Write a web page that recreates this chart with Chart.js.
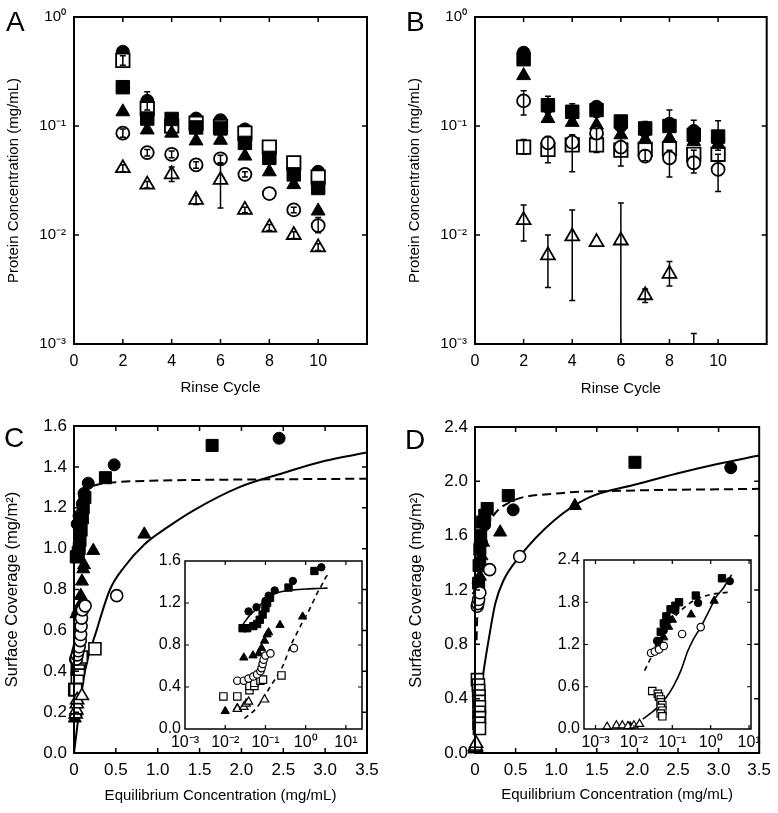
<!DOCTYPE html>
<html><head><meta charset="utf-8">
<script src="https://cdn.jsdelivr.net/npm/chart.js@4.4.1/dist/chart.umd.min.js"></script>
<style>
body{margin:0;background:#fff;width:778px;height:813px;position:relative;overflow:hidden;font-family:"Liberation Sans",Arial,Helvetica,sans-serif}
canvas{position:absolute}
.lbl{position:absolute;font-size:28px;line-height:28px;color:#000;font-family:"Liberation Sans",Arial,sans-serif}
</style></head><body>
<canvas id="cA" width="389" height="406" style="left:0;top:0"></canvas>
<canvas id="cB" width="389" height="406" style="left:389px;top:0"></canvas>
<canvas id="cC" width="389" height="407" style="left:0;top:406px"></canvas>
<canvas id="cD" width="389" height="407" style="left:389px;top:406px"></canvas>
<canvas id="cCi" width="230" height="220" style="left:145px;top:545px"></canvas>
<canvas id="cDi" width="225" height="220" style="left:545px;top:545px"></canvas>
<div class="lbl" style="left:6px;top:8px">A</div>
<div class="lbl" style="left:406px;top:8px">B</div>
<div class="lbl" style="left:4px;top:424px">C</div>
<div class="lbl" style="left:405px;top:426px">D</div>
<script>
// ---------- Data ----------
const rinseCycles = [2,3,4,5,6,7,8,9,10];
const rinseTicks = [0,2,4,6,8,10,12];
const logTicksAB = [0.001,0.01,0.1,1];
const insetXTicks = [0.001,0.01,0.1,1,10];

// Panel A (protein concentration vs rinse cycle)
const aFilledCircle   = [0.48, 0.17, 0.10, 0.117,0.113,0.093,0.060,0.042,0.038];
const aOpenSquare     = [0.40, 0.144,0.10, 0.106,0.099,0.086,0.064,0.046,0.034];
const aFilledSquare   = [0.227,0.117,0.116,0.097,0.095,0.070,0.051,0.036,0.027];
const aFilledTriangle = [0.135,0.092,0.086,0.073,0.074,0.053,0.038,0.029,0.0166];
const aOpenCircle     = [0.086,0.057,0.055,0.044,0.050,0.036,0.024,0.017,0.0122];
const aOpenTriangle   = [0.041,0.029,0.036,0.021,0.032,0.017,0.0117,0.010,0.0077];
const aErrFilledCircle = [null,[0.14,0.206],null,null,null,null,null,null,null];
const aErrOpenCircle   = [[0.079,0.094],[0.053,0.061],[0.051,0.059],[0.041,0.047],[0.046,0.054],[0.034,0.038],null,[0.016,0.018],[0.0105,0.0145]];
const aErrOpenTriangle = [[0.038,0.044],[0.027,0.031],[0.031,0.042],[0.019,0.023],[0.0177,0.045],[0.016,0.018],[0.011,0.0125],[0.0093,0.0107],[0.0072,0.0083]];
const aErrOpenSquare   = [[0.36,0.44],null,null,null,null,null,null,null,null];

// Panel B
const bFilledCircle   = [0.47, 0.15, 0.13, 0.15, 0.10, 0.09, 0.105,0.09, 0.075];
const bOpenSquare     = [0.064,0.061,0.067,0.067,0.060,0.061,0.062,0.055,0.055];
const bFilledSquare   = [0.41, 0.155,0.135,0.14, 0.11, 0.095,0.10, 0.083,0.080];
const bFilledTriangle = [0.29, 0.117,0.108,0.102,0.083,0.075,0.077,0.072,0.068];
const bOpenCircle     = [0.17, 0.070,0.071,0.086,0.064,0.053,0.051,0.046,0.040];
const bOpenTriangle   = [0.0137,0.0065,0.0097,0.0086,0.0089,0.0028,0.0044,0.0006,null];
const bErrFilledSquare = [null,[0.13,0.187],[0.115,0.16],[0.12,0.16],null,[0.085,0.11],[0.08,0.14],[0.07,0.113],[0.06,0.112]];
const bErrOpenCircle   = [[0.126,0.211],null,[0.038,0.083],[0.057,0.095],null,[0.048,0.06],[0.034,0.06],[0.037,0.06],[0.025,0.055]];
const bErrOpenSquare   = [[0.055,0.075],[0.046,0.08],null,null,[0.043,0.08],null,null,null,null];
const bErrOpenTriangle = [[0.0088,0.0188],[0.0033,0.010],[0.0025,0.017],null,[0.0005,0.0197],[0.0024,0.0032],[0.0034,0.0057],[0.0003,0.00125],null];

// Panel C (surface coverage vs equilibrium concentration)
const cFilledCircle   = [[0.038,1.12],[0.06,1.16],[0.1,1.22],[0.12,1.27],[0.17,1.32],[0.48,1.41],[2.45,1.54]];
const cFilledSquare   = [[0.027,0.96],[0.035,0.96],[0.05,0.98],[0.062,1.0],[0.072,1.04],[0.085,1.09],[0.1,1.15],[0.11,1.2],[0.13,1.25],[0.375,1.347],[1.65,1.505]];
const cFilledTriangle = [[0.01,0.17],[0.02,0.2],[0.029,0.68],[0.049,0.7],[0.068,0.72],[0.08,0.77],[0.095,0.84],[0.11,0.9],[0.12,0.92],[0.23,0.99],[0.84,1.07]];
const cOpenCircle     = [[0.02,0.46],[0.029,0.46],[0.038,0.48],[0.05,0.5],[0.062,0.52],[0.075,0.55],[0.08,0.58],[0.085,0.62],[0.09,0.66],[0.1,0.7],[0.133,0.72],[0.51,0.77]];
const cOpenSquare     = [[0.009,0.31],[0.02,0.31],[0.04,0.37],[0.04,0.41],[0.053,0.41],[0.053,0.44],[0.075,0.46],[0.087,0.47],[0.25,0.51]];
const cOpenTriangle   = [[0.02,0.19],[0.029,0.21],[0.033,0.24],[0.038,0.26],[0.095,0.28]];
const cFitDashed = [[0.027,0.99],[0.038,1.07],[0.062,1.15],[0.11,1.25],[0.17,1.29],[0.3,1.315],[0.5,1.325],[1.0,1.333],[2.0,1.338],[3.5,1.342]];
const cFitSolid  = [[0,0],[0.03,0.1],[0.06,0.2],[0.13,0.4],[0.27,0.6],[0.43,0.8],[0.6,0.91],[0.84,1.02],[1.1,1.1],[1.44,1.19],[1.97,1.3],[2.5,1.37],[3.0,1.43],[3.5,1.47]];

// Panel D
const dFilledCircle   = [[0.04,1.25],[0.06,1.4],[0.08,1.55],[0.12,1.68],[0.47,1.79],[3.15,2.1]];
const dFilledSquare   = [[0.045,1.25],[0.05,1.38],[0.06,1.5],[0.07,1.6],[0.09,1.7],[0.12,1.75],[0.15,1.8],[0.41,1.895],[1.97,2.14]];
const dFilledTriangle = [[0.008,0.04],[0.045,1.2],[0.06,1.3],[0.08,1.45],[0.1,1.55],[0.31,1.625],[1.23,1.82]];
const dOpenCircle     = [[0.028,1.08],[0.035,1.1],[0.045,1.13],[0.06,1.18],[0.18,1.35],[0.55,1.447]];
const dOpenSquare     = [[0.03,0.54],[0.042,0.5],[0.045,0.46],[0.05,0.42],[0.05,0.38],[0.055,0.34],[0.05,0.3],[0.055,0.26],[0.05,0.22],[0.055,0.18]];
const dOpenTriangle   = [[0.002,0.03],[0.0035,0.05],[0.005,0.05],[0.007,0.04],[0.01,0.05],[0.014,0.07]];
const dFitDashed = [[0.019,0.83],[0.03,1.05],[0.05,1.3],[0.1,1.55],[0.2,1.72],[0.41,1.84],[1.0,1.91],[1.8,1.93],[3.5,1.945]];
const dFitSolid  = [[0.017,0.14],[0.04,0.3],[0.07,0.45],[0.11,0.62],[0.17,0.84],[0.25,1.1],[0.35,1.27],[0.55,1.447],[0.97,1.71],[1.4,1.88],[2.0,1.98],[2.5,2.06],[3.0,2.13],[3.5,2.19]];

// ---------- Helpers ----------
const FONT = '"Liberation Sans", Arial, Helvetica, sans-serif';
Chart.defaults.font.family = FONT;
Chart.defaults.color = '#000';
Chart.defaults.animation = false;

const SUP = {'-':'\u207B','0':'\u2070','1':'\u00B9','2':'\u00B2','3':'\u00B3','4':'\u2074','5':'\u2075'};
function pow10Label(v){ const e = Math.round(Math.log10(v)); return '10' + String(e).split('').map(c=>SUP[c]).join(''); }

const framePlugin = {
  id:'frame',
  beforeDatasetsDraw(chart, args, o){
    if(!o || !o.fill) return;
    const {ctx, chartArea:a} = chart;
    ctx.save(); ctx.fillStyle='#fff'; ctx.fillRect(a.left,a.top,a.right-a.left,a.bottom-a.top); ctx.restore();
  },
  afterDraw(chart, args, o){
    const {ctx, chartArea:a, scales:{x,y}} = chart;
    const L = o.tick || 5;
    ctx.save();
    ctx.strokeStyle='#000';
    ctx.lineWidth = o.tw || 1.5;
    ctx.beginPath();
    const near=(p,q)=>Math.abs(p-q)<1.5;
    x.ticks.forEach(t=>{ const px=x.getPixelForValue(t.value); if(near(px,a.left)||near(px,a.right)) return;
      ctx.moveTo(px,a.bottom); ctx.lineTo(px,a.bottom-L); ctx.moveTo(px,a.top); ctx.lineTo(px,a.top+L); });
    y.ticks.forEach(t=>{ const py=y.getPixelForValue(t.value); if(near(py,a.top)||near(py,a.bottom)) return;
      ctx.moveTo(a.left,py); ctx.lineTo(a.left+L,py); ctx.moveTo(a.right,py); ctx.lineTo(a.right-L,py); });
    ctx.stroke();
    ctx.lineWidth = o.lw || 2;
    ctx.strokeRect(a.left,a.top,a.right-a.left,a.bottom-a.top);
    ctx.restore();
  }
};
const errPlugin = {
  id:'errbars',
  afterDatasetsDraw(chart){
    const {ctx, chartArea:a, scales:{x,y}} = chart;
    ctx.save();
    ctx.beginPath(); ctx.rect(a.left,a.top,a.right-a.left,a.bottom-a.top); ctx.clip();
    ctx.strokeStyle='#000'; ctx.lineWidth=1.5;
    ctx.beginPath();
    chart.data.datasets.forEach(ds=>{
      ds.data.forEach(p=>{
        if(p.lo==null) return;
        const px=x.getPixelForValue(p.x), y1=y.getPixelForValue(p.lo), y2=y.getPixelForValue(p.hi);
        ctx.moveTo(px,y1); ctx.lineTo(px,y2);
        ctx.moveTo(px-3,y1); ctx.lineTo(px+3,y1);
        ctx.moveTo(px-3,y2); ctx.lineTo(px+3,y2);
      });
    });
    ctx.stroke();
    ctx.restore();
  }
};
Chart.register(framePlugin, errPlugin);

const KINDS = ['filledCircle','openSquare','filledSquare','filledTriangle','openCircle','openTriangle'];
function markerSet(data, kind, size, order){
  const open = kind.startsWith('open');
  const shape = kind.endsWith('Circle') ? 'circle' : kind.endsWith('Square') ? 'rect' : 'triangle';
  const r = size[shape];
  return {label:kind, data, showLine:false, pointStyle:shape, pointRadius:r, pointHoverRadius:r,
    pointBackgroundColor: open ? '#fff' : '#000', pointBorderColor:'#000',
    pointBorderWidth: open ? size.bw : 1, clip:8, order};
}
function lineSet(pts, dashed, width, dash){
  return {label:'fit', data: pts.map(([x,y])=>({x,y})), showLine:true, pointRadius:0, borderColor:'#000',
    borderWidth:width, borderDash: dashed ? dash : [], cubicInterpolationMode:'monotone', fill:false, order:50, clip:0};
}
function rinseData(vals, errs){
  return rinseCycles.map((x,i)=>({x, y:vals[i], lo: errs && errs[i] ? errs[i][0] : null, hi: errs && errs[i] ? errs[i][1] : null}))
    .filter(p=>p.y!=null);
}
function pairData(arr, logx){ return arr.filter(p=>!logx || p[0]>0).map(([x,y])=>({x,y})); }

function makeChart(id, cfg){
  const {datasets, xScale, yScale, pad, yW, xH, frame} = cfg;
  xScale.afterFit = s=>{ s.height = xH; };
  yScale.afterFit = s=>{ s.width = yW; };
  return new Chart(document.getElementById(id), {
    type:'scatter',
    data:{datasets},
    options:{
      responsive:false, animation:false, events:[],
      layout:{padding:pad},
      plugins:{legend:{display:false}, tooltip:{enabled:false}, frame},
      scales:{x:xScale, y:yScale}
    }
  });
}
const gridOff = {display:false, drawTicks:false};
const tickFontAB = {size:15, family:FONT};
const tickFontCD = {size:17, family:FONT};
const tickFontIn = {size:16, family:FONT};
const titleFont = {size:15, family:FONT};
const titleFontCD = {size:16.5, family:FONT};

// ---------- Panels A & B ----------
const sizeAB = {circle:6.5, rect:9.5, triangle:8, bw:1.8};
function rinseXScale(pb){
  return {type:'linear', min:0, max:12, border:{display:false}, grid:gridOff,
    afterBuildTicks: s=>{ s.ticks = rinseTicks.map(v=>({value:v})); },
    ticks:{font:{size:16, family:FONT}, padding:8, autoSkip:false, maxRotation:0, callback:v=> v===12 ? '' : String(v)},
    title:{display:true, text:'Rinse Cycle', font:titleFont, padding:{top:0,bottom:pb}}};
}
function logYScale(pt){
  return {type:'logarithmic', min:0.001, max:1, border:{display:false}, grid:gridOff,
    afterBuildTicks: s=>{ s.ticks = logTicksAB.map(v=>({value:v})); },
    ticks:{font:tickFontAB, padding:8, autoSkip:false, callback:v=>pow10Label(v)},
    title:{display:true, text:'Protein Concentration (mg/mL)', font:titleFont, padding:{top:pt,bottom:0}}};
}
const aVals = [aFilledCircle,aOpenSquare,aFilledSquare,aFilledTriangle,aOpenCircle,aOpenTriangle];
const aErrs = [aErrFilledCircle,aErrOpenSquare,null,null,aErrOpenCircle,aErrOpenTriangle];
makeChart('cA', {
  datasets: KINDS.map((k,i)=>markerSet(rinseData(aVals[i],aErrs[i]), k, sizeAB, 10-i)),
  xScale: rinseXScale(9), yScale: logYScale(5),
  pad:{top:12,right:22,left:0,bottom:0}, yW:74, xH:62, frame:{lw:2}
});
const bVals = [bFilledCircle,bOpenSquare,bFilledSquare,bFilledTriangle,bOpenCircle,bOpenTriangle];
const bErrs = [null,bErrOpenSquare,bErrFilledSquare,null,bErrOpenCircle,bErrOpenTriangle];
makeChart('cB', {
  datasets: KINDS.map((k,i)=>markerSet(rinseData(bVals[i],bErrs[i]), k, sizeAB, 10-i)),
  xScale: rinseXScale(8), yScale: logYScale(17),
  pad:{top:12,right:11,left:0,bottom:0}, yW:86, xH:62, frame:{lw:2}
});

// ---------- Panels C & D ----------
const sizeCD = {circle:6, rect:8.5, triangle:7.5, bw:1.6};
const sizeIn = {circle:3.7, rect:5.2, triangle:4.8, bw:1.2};
function concXScale(pb){
  return {type:'linear', min:0, max:3.5, border:{display:false}, grid:gridOff,
    ticks:{font:tickFontCD, padding:7, stepSize:0.5, autoSkip:false, maxRotation:0},
    title:{display:true, text:'Equilibrium Concentration (mg/mL)', font:titleFont, padding:{top:0,bottom:pb}}};
}
function covYScale(max, step, pt){
  return {type:'linear', min:0, max, border:{display:false}, grid:gridOff,
    ticks:{font:tickFontCD, padding:7, stepSize:step, autoSkip:false, callback:v=>v.toFixed(1)},
    title:{display:true, text:'Surface Coverage (mg/m\u00B2)', font:titleFontCD, padding:{top:pt,bottom:0}}};
}
function insetXScale(minExp, maxExp){
  return {type:'logarithmic', min:Math.pow(10,minExp), max:Math.pow(10,maxExp), border:{display:false}, grid:gridOff,
    afterBuildTicks: s=>{ s.ticks = insetXTicks.map(v=>({value:v})); },
    ticks:{font:tickFontIn, padding:4, autoSkip:false, maxRotation:0, callback:v=>pow10Label(v)}};
}
function insetYScale(max, step){
  return {type:'linear', min:0, max, border:{display:false}, grid:gridOff,
    ticks:{font:tickFontIn, padding:4, stepSize:step, autoSkip:false, callback:v=>v.toFixed(1)}};
}
const cSets = [cFilledCircle,cOpenSquare,cFilledSquare,cFilledTriangle,cOpenCircle,cOpenTriangle];
const dSets = [dFilledCircle,dOpenSquare,dFilledSquare,dFilledTriangle,dOpenCircle,dOpenTriangle];

makeChart('cC', {
  datasets: [lineSet(cFitDashed,true,2,[9,5]), lineSet(cFitSolid,false,2)]
    .concat(KINDS.map((k,i)=>markerSet(pairData(cSets[i]), k, sizeCD, 10-i))),
  xScale: concXScale(8), yScale: covYScale(1.6,0.2,2.5),
  pad:{top:20,right:22,left:0,bottom:0}, yW:74, xH:60, frame:{lw:2}
});
makeChart('cD', {
  datasets: [lineSet(dFitDashed,true,2,[9,5]), lineSet(dFitSolid,false,2)]
    .concat(KINDS.map((k,i)=>markerSet(pairData(dSets[i]), k, sizeCD, 10-i))),
  xScale: concXScale(9.5), yScale: covYScale(2.4,0.4,17.5),
  pad:{top:21,right:11,left:0,bottom:0}, yW:86, xH:60, frame:{lw:2}
});
// Insets (log x)
makeChart('cCi', {
  datasets: [lineSet(cFitDashed,false,1.6), lineSet(pairData(cFitSolid,true).map(p=>[p.x,p.y]),true,1.6,[5,4])]
    .concat(KINDS.map((k,i)=>markerSet(pairData(cSets[i],true), k, sizeIn, 10-i))),
  xScale: insetXScale(-3,1.4), yScale: insetYScale(1.6,0.4),
  pad:{top:16,right:13,left:0,bottom:0}, yW:40, xH:36, frame:{lw:1.5, tick:4, tw:1.2, fill:true}
});
makeChart('cDi', {
  datasets: [lineSet(dFitDashed,true,1.6,[5,4]), lineSet(dFitSolid,false,1.6)]
    .concat(KINDS.map((k,i)=>markerSet(pairData(dSets[i],true), k, sizeIn, 10-i))),
  xScale: insetXScale(-3.3,1.05), yScale: insetYScale(2.4,0.6),
  pad:{top:15,right:19,left:0,bottom:0}, yW:39, xH:36, frame:{lw:1.5, tick:4, tw:1.2, fill:true}
});
</script>
</body></html>
